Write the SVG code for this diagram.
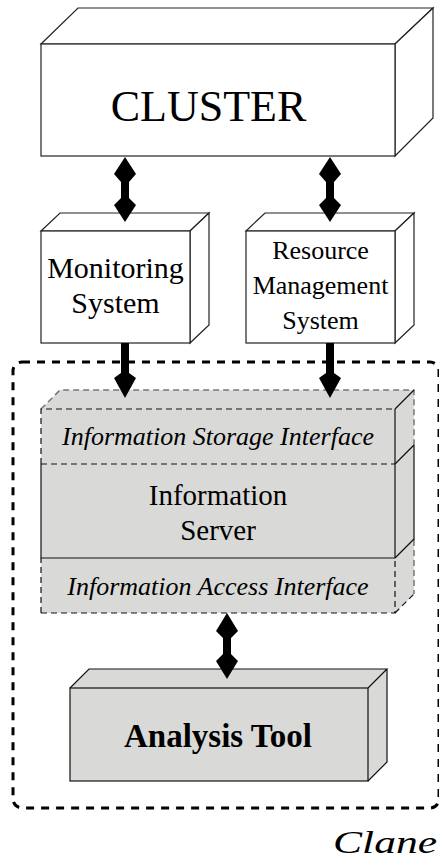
<svg xmlns="http://www.w3.org/2000/svg" width="439" height="861" viewBox="0 0 439 861">
<style>
.box{fill:#ffffff;stroke:#222;stroke-width:1.2;stroke-linejoin:miter}
.gbox{fill:#d9dad8;stroke:none}
.ln{fill:none;stroke:#111;stroke-width:1.2}
.dl{fill:none;stroke:#111;stroke-width:1.2;stroke-dasharray:6 4}
.gdl{fill:none;stroke:#777;stroke-width:1.5;stroke-dasharray:6 4}
.arr{fill:#000;stroke:none}
.bound{fill:none;stroke:#000;stroke-width:3;stroke-dasharray:8 7}
</style>
<rect width="439" height="861" fill="#ffffff"/>
<g font-family="Liberation Serif, Times New Roman, Times, serif" text-anchor="middle" fill="#000">

<g id="clane-boundary">
<rect class="bound" x="13" y="362" width="426" height="446" rx="9" ry="9"/>
<text x="333" y="853" font-size="32" font-style="italic" text-anchor="start" textLength="104" lengthAdjust="spacingAndGlyphs">Clane</text>
</g>

<g id="cluster">
<polygon class="box" points="41,44 78,8 433,8 395,44"/>
<polygon class="box" points="395,44 433,8 433,118 395,156"/>
<rect class="box" x="41" y="44" width="354" height="112"/>
<text x="208.5" y="121" font-size="44">CLUSTER</text>
</g>

<g id="monitoring">
<polygon class="box" points="41,231 60,213 209,213 190,231"/>
<polygon class="box" points="190,231 209,213 209,325 190,343"/>
<rect class="box" x="41" y="231" width="149" height="112"/>
<text x="115.5" y="278" font-size="30">Monitoring</text>
<text x="115.5" y="313" font-size="30">System</text>
</g>

<g id="resource">
<polygon class="box" points="246,231 265,213 414,213 395,231"/>
<polygon class="box" points="395,231 414,213 414,325 395,343"/>
<rect class="box" x="246" y="231" width="149" height="112"/>
<text x="320.5" y="259" font-size="26">Resource</text>
<text x="320.5" y="294" font-size="26">Management</text>
<text x="320.5" y="329" font-size="26">System</text>
</g>

<g id="info-server">
<polygon class="gbox" points="41,409 60,390 414,390 414,594 395,613 41,613"/>
<path class="gdl" d="M41,409 L60,390 L414,390 L414,445"/>
<path class="gdl" d="M414,540 L414,594"/>
<path class="ln" d="M414,445 L414,540"/>
<path class="ln" d="M395,409 L414,390"/>
<path class="ln" d="M395,464 L414,445"/>
<path class="ln" d="M395,558 L414,539"/>
<path class="dl" d="M395,613 L414,594"/>
<path class="dl" d="M41,613 L41,558"/>
<path class="dl" d="M41,464 L41,409 L395,409"/>
<path class="dl" d="M41,464 L395,464"/>
<path class="dl" d="M41,613 L395,613 L395,558"/>
<path class="ln" d="M395,409 L395,558"/>
<path class="ln" d="M41,464 L41,558 L395,558"/>
<text x="218" y="445" font-size="26" font-style="italic">Information Storage Interface</text>
<text x="218" y="505" font-size="29">Information</text>
<text x="218" y="540" font-size="29">Server</text>
<text x="218" y="595" font-size="26" font-style="italic">Information Access Interface</text>
</g>

<g id="analysis-tool">
<polygon class="gbox" points="70,688 89,669 387,669 387,762 368,781 70,781"/>
<path class="ln" d="M70,688 L89,669 L387,669 L368,688 M387,669 L387,762 L368,781"/>
<rect class="ln" x="70" y="688" width="298" height="93"/>
<text x="218" y="747" font-size="33" font-weight="bold">Analysis Tool</text>
</g>

</g>
<g id="connectors">
<polygon class="arr" points="125,157 136,174 129,182 129,198 136,205 125,222 114,205 121,198 121,182 114,174"/>
<polygon class="arr" points="330,157 341,174 334,182 334,198 341,205 330,222 319,205 326,198 326,182 319,174"/>
<polygon class="arr" points="121,343 129,343 129,373 136,378 125,398 114,378 121,373"/>
<polygon class="arr" points="326,343 334,343 334,373 341,378 330,398 319,378 326,373"/>
<polygon class="arr" points="227,613 238,631 231,638 231,654 238,661 227,679 216,661 223,654 223,638 216,631"/>
</g>
</svg>
